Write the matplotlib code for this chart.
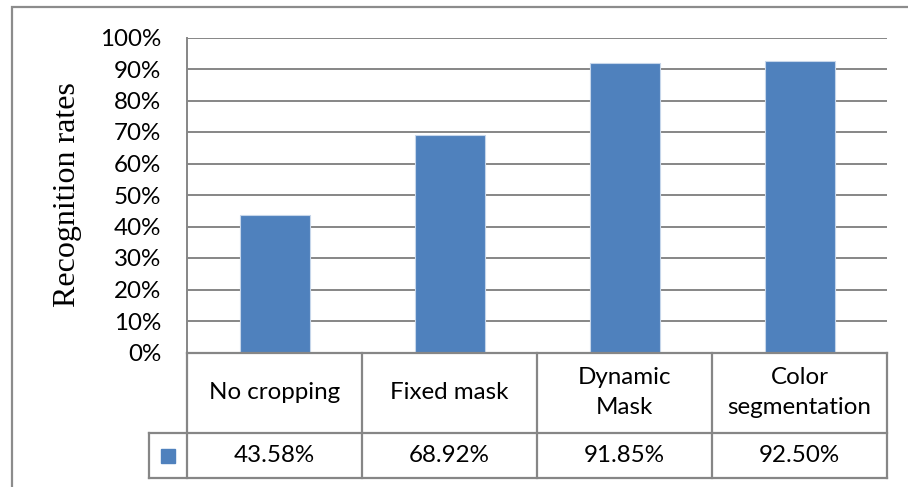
import matplotlib
matplotlib.use("Agg")
import matplotlib.pyplot as plt
from matplotlib.patches import Rectangle
from matplotlib.transforms import blended_transform_factory

# Recognition rate per cropping method
categories = ["No cropping", "Fixed mask", "Dynamic\nMask", "Color\nsegmentation"]
rates = [43.58, 68.92, 91.85, 92.50]
value_labels = ["43.58%", "68.92%", "91.85%", "92.50%"]
y_ticks = [0, 10, 20, 30, 40, 50, 60, 70, 80, 90, 100]
y_tick_labels = [f"{t}%" for t in y_ticks]

BAR_COLOR = "#4F81BD"
GRID_COLOR = "#868686"
LABEL_FONT = "Lato"
FS = 17.4

fig = plt.figure(figsize=(9.08, 4.87), dpi=100)
W, H = 908, 487

# outer chart frame
fig.patches.append(Rectangle((12 / W, -0.1), 1.2, 1 - 7 / H + 0.1,
                             transform=fig.transFigure, fill=False,
                             edgecolor="#8c8c8c", linewidth=1.6))

left, right, top, bottom = 187, 887, 37.5, 352.5
ax = fig.add_axes([left / W, 1 - bottom / H, (right - left) / W, (bottom - top) / H])

x = list(range(len(categories)))
ax.bar(x, rates, width=0.4, color=BAR_COLOR, edgecolor="#c6d6ea",
       linewidth=0.8, zorder=3)

ax.set_xlim(-0.5, len(categories) - 0.5)
ax.set_ylim(0, 100)
ax.set_yticks(y_ticks)
ax.set_yticklabels(y_tick_labels, fontfamily=LABEL_FONT, fontsize=FS)
ax.set_xticks([])
ax.tick_params(axis="y", length=0, pad=18.5)
ax.yaxis.grid(True, color=GRID_COLOR, linewidth=1.4, zorder=0)
ax.set_axisbelow(True)

for s in ("top", "right", "bottom"):
    ax.spines[s].set_visible(False)
ax.spines["left"].set_color(GRID_COLOR)
ax.spines["left"].set_linewidth(1.4)

ax.set_ylabel("Recognition rates", fontfamily="Liberation Serif", fontsize=23)
ax.yaxis.set_label_coords(-0.15, 0.5)

# data table under the plot
tr = blended_transform_factory(ax.transData, ax.transAxes)
ax_h = bottom - top
hdr_bot = -(433 - bottom) / ax_h
val_bot = -(478 - bottom) / ax_h
cat_w = (right - left) / len(categories)
key_left = -0.5 - (187 - 149) / cat_w
lk = dict(color=GRID_COLOR, linewidth=1.6, transform=tr, clip_on=False, zorder=4)

n = len(categories)
for b in [i - 0.5 for i in range(n + 1)]:
    ax.plot([b, b], [0, val_bot], **lk)
ax.plot([-0.5, n - 0.5], [0, 0], **lk)
ax.plot([key_left, n - 0.5], [hdr_bot, hdr_bot], **lk)
ax.plot([key_left, n - 0.5], [val_bot, val_bot], **lk)
ax.plot([key_left, key_left], [hdr_bot, val_bot], **lk)

for i, (cat, lab) in enumerate(zip(categories, value_labels)):
    ax.text(i, hdr_bot / 2, cat, transform=tr, ha="center", va="center",
            fontfamily=LABEL_FONT, fontsize=FS, linespacing=1.5, clip_on=False)
    ax.text(i, (hdr_bot + val_bot) / 2, lab, transform=tr, ha="center",
            va="center", fontfamily=LABEL_FONT, fontsize=FS, clip_on=False)

# legend key in the table
ax.plot([(key_left - 0.5) / 2], [(hdr_bot + val_bot) / 2], marker="s",
        markersize=10.5, color=BAR_COLOR, linestyle="none", transform=tr,
        clip_on=False, zorder=5)

fig.savefig("out.png", dpi=100)
